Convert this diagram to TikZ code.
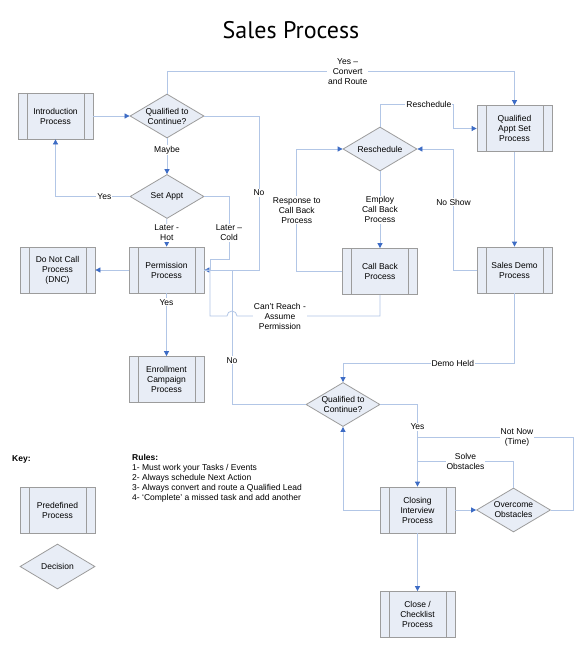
\documentclass[tikz,border=0pt]{standalone}
\usepackage{fontspec}
\setmainfont{Liberation Sans}
\newfontfamily\titlefont{PT Sans}
\usetikzlibrary{shapes.geometric,arrows.meta}
\definecolor{boxfill}{HTML}{E8EDF6}
\definecolor{boxline}{HTML}{9C9C9C}
\definecolor{flowline}{HTML}{B2C6E6}
\definecolor{tipblue}{HTML}{3D6CC5}

\begin{document}
\begin{tikzpicture}[x=1pt,y=-1pt,
  font=\fontsize{8.5}{10}\selectfont,
  proc/.style={rectangle,draw=boxline,fill=boxfill,line width=0.8pt,minimum width=75pt,minimum height=46pt,inner sep=0pt,align=center,
    path picture={\draw[boxline,line width=0.8pt] ([xshift=9pt]path picture bounding box.north west) -- ([xshift=9pt]path picture bounding box.south west)
      ([xshift=-9pt]path picture bounding box.north east) -- ([xshift=-9pt]path picture bounding box.south east);}},
  dec/.style={diamond,draw=boxline,fill=boxfill,line width=0.8pt,minimum width=74pt,minimum height=44pt,aspect=1.68,inner sep=0pt,align=center},
  flow/.style={draw=flowline,line width=0.8pt},
  arr/.style={flow,-{Triangle[length=5pt,width=5pt,color=tipblue]}},
  lbl/.style={fill=white,inner sep=1pt,align=center}]
\path[fill=white] (0,0) rectangle (583,650);

\node[font=\titlefont\fontsize{24}{27}\selectfont] (title) at (291,30) {Sales Process};

\node[proc] (intro) at (55.5,116) {Introduction\\Process};
\node[dec] (qual) at (167,116) {Qualified to\\Continue?};
\node[dec] (appt) at (167,196.5) {Set Appt};
\node[proc] (perm) at (166.5,270) {Permission\\Process};
\node[proc] (dnc) at (57.5,270) {Do Not Call\\Process\\(DNC)};
\node[proc] (enrol) at (166.5,379.5) {Enrollment\\Campaign\\Process};
\node[dec] (resched) at (380,149) {Reschedule};
\node[proc] (qappt) at (514.5,128.5) {Qualified\\Appt Set\\Process};
\node[proc] (callback) at (380,271.5) {Call Back\\Process};
\node[proc] (demo) at (514.5,270) {Sales Demo\\Process};
\node[dec] (qual2) at (343,404.5) {Qualified to\\Continue?};
\node[proc] (closing) at (417.5,510) {Closing\\Interview\\Process};
\node[dec] (obst) at (513.5,510) {Overcome\\Obstacles};
\node[proc] (checklist) at (417.5,614.5) {Close /\\Checklist\\Process};

\coordinate (noturn) at (259,270);
\coordinate (coldbend) at (229,259);
\coordinate (colddrop) at (210,259);
\coordinate (hopR) at (237,316);
\coordinate (hopL) at (227,316);
\coordinate (reachturn) at (210,316);
\coordinate (nojoin) at (232,270);
\coordinate (rsbend) at (453,104);
\coordinate (solvejoin) at (417.5,461);
\coordinate (timejoin) at (417.5,437);

\draw[arr] (intro) -- (qual);
\draw[arr] (qual.north) -- ++(0,-22) -| node[lbl,pos=0.26] {Yes --\\Convert\\and Route} (qappt.north);
\draw[arr] (qual) -- node[lbl,pos=0.32] {Maybe} (appt);
\draw[arr] (qual.east) -| node[lbl,pos=0.75] {No} (noturn) -- (perm.east);
\draw[arr] (appt.west) -| node[lbl,pos=0.17] {Yes} (intro.south);
\draw[arr] (appt) -- node[lbl] {Later -\\Hot} (perm);
\draw[flow] (appt.east) -| node[lbl,pos=0.79] {Later --\\Cold} (coldbend) -- (colddrop) |- (perm.east);
\draw[flow] (callback.south) |- node[lbl,pos=0.85] {Can't Reach -\\Assume\\Permission} (hopR)
  arc[start angle=0,end angle=180,radius=5pt] -- (reachturn) |- (perm.east);
\draw[flow] (qual2.west) -| node[lbl,pos=0.665] {No} (nojoin);
\draw[arr] (perm) -- (dnc);
\draw[arr] (perm) -- node[lbl,pos=0.14] {Yes} (enrol);

\draw[arr] (qappt) -- (demo);
\draw[arr] (resched.north) |- node[lbl,pos=0.835] {Reschedule} (rsbend) |- (qappt.west);
\draw[arr] (resched) -- node[lbl] {Employ\\Call Back\\Process} (callback);
\draw[arr] (callback.west) -- ++(-45.3,0) |- node[lbl,pos=0.25] {Response to\\Call Back\\Process} (resched.west);
\draw[arr] (demo.west) -- ++(-23,0) |- node[lbl,pos=0.28] {No Show} (resched.east);
\draw[arr] (demo.south) -- ++(0,70) -| node[lbl,pos=0.18] {Demo Held} (qual2.north);

\draw[arr] (qual2.east) -| node[lbl,pos=0.635] {Yes} (closing.north);
\draw[arr] (closing.west) -| (qual2.south);
\draw[arr] (closing) -- (obst);
\draw[flow] (obst.north) |- node[lbl,pos=0.75] {Solve\\Obstacles} (solvejoin);
\draw[flow] (obst.east) -- ++(22,0) |- node[lbl,pos=0.68] {Not Now\\(Time)} (timejoin);
\draw[arr] (closing) -- (checklist);

\node[anchor=west,inner sep=0pt,font=\bfseries\fontsize{8.5}{10}\selectfont] (keytitle) at (12,459) {Key:};
\node[proc] (keyproc) at (57.5,510) {Predefined\\Process};
\node[dec,minimum width=75pt,minimum height=45pt] (keydec) at (57.5,566.5) {Decision};
\node[anchor=north west,inner sep=0pt,align=left] (rules) at (132,454) {\textbf{Rules:}\\
  1- Must work your Tasks / Events\\
  2- Always schedule Next Action\\
  3- Always convert and route a Qualified Lead\\
  4- `Complete' a missed task and add another};
\end{tikzpicture}
\end{document}
